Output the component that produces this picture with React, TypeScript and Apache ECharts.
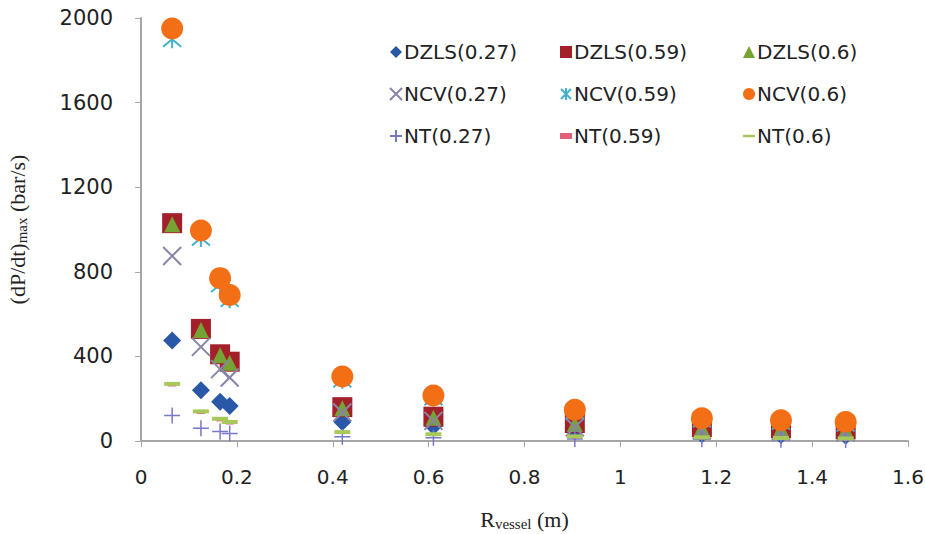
import React, { useEffect, useRef } from "react";
import * as echarts from "echarts";

const xValues = [0.065, 0.125, 0.165, 0.185, 0.42, 0.61, 0.905, 1.17, 1.335, 1.47];

const dzls027 = [475, 240, 185, 165, 90, 70, 45, 32, 28, 25];
const dzls059 = [1030, 530, 410, 375, 160, 115, 85, 65, 60, 55];
const dzls06 = [1025, 525, 405, 370, 155, 110, 80, 62, 58, 52];
const ncv027 = [875, 445, 340, 300, 135, 95, 65, 50, 45, 40];
const ncv059 = [1900, 960, 740, 670, 290, 205, 140, 100, 90, 80];
const ncv06 = [1950, 995, 770, 690, 305, 215, 148, 108, 98, 90];
const nt027 = [120, 60, 45, 35, 20, 15, 10, 8, 6, 5];
const nt059 = [265, 135, 100, 85, 40, 30, 20, 15, 12, 10];
const nt06 = [270, 140, 105, 90, 42, 32, 22, 17, 14, 12];

const yTicks = [0, 400, 800, 1200, 1600, 2000];
const xTicks = [0, 0.2, 0.4, 0.6, 0.8, 1, 1.2, 1.4, 1.6];

const pathX = "path://M0,0L10,10M10,0L0,10";
const pathStar = "path://M0,0L10,10M10,0L0,10M5,-1L5,11";
const pathPlus = "path://M5,0L5,10M0,5L10,5";

export default function App() {
  const ref = useRef<HTMLDivElement>(null);
  useEffect(() => {
    if (!ref.current) return;
    const chart = echarts.init(ref.current, undefined, { renderer: "svg" });
    const pts = (ys: number[]) => xValues.map((x, i) => [x, ys[i]]);
    const font = "DejaVu Sans";
    const series: any[] = [
      { name: "DZLS(0.27)", data: pts(dzls027), symbol: "diamond", symbolSize: 18, itemStyle: { color: "#2A58A8", opacity: 1 } },
      { name: "DZLS(0.59)", data: pts(dzls059), symbol: "rect", symbolSize: 20, itemStyle: { color: "#A3202A", opacity: 1 } },
      { name: "DZLS(0.6)", data: pts(dzls06), symbol: "triangle", symbolSize: 16, itemStyle: { color: "#77A234", opacity: 1 } },
      { name: "NCV(0.27)", data: pts(ncv027), symbol: pathX, symbolSize: 18, itemStyle: { color: "transparent", borderColor: "#8A84A8", borderWidth: 2, opacity: 1 } },
      { name: "NCV(0.59)", data: pts(ncv059), symbol: pathStar, symbolSize: 18, itemStyle: { color: "transparent", borderColor: "#45B0CC", borderWidth: 2, opacity: 1 } },
      { name: "NCV(0.6)", data: pts(ncv06), symbol: "circle", symbolSize: 22, itemStyle: { color: "#F26F16", opacity: 1 } },
      { name: "NT(0.27)", data: pts(nt027), symbol: pathPlus, symbolSize: 16, itemStyle: { color: "transparent", borderColor: "#7878C8", borderWidth: 1.5, opacity: 1 } },
      { name: "NT(0.59)", data: pts(nt059), symbol: "rect", symbolSize: [8, 3], itemStyle: { color: "#E0607E", opacity: 1 } },
      { name: "NT(0.6)", data: pts(nt06), symbol: "rect", symbolSize: [16, 4], itemStyle: { color: "#A9C85A", opacity: 1 } },
    ].map((s) => ({ ...s, type: "scatter" }));

    const legendBase = {
      orient: "vertical",
      top: 37,
      itemWidth: 12,
      itemHeight: 12,
      itemGap: 22,
      textStyle: { fontFamily: font, fontSize: 20, color: "#222", lineHeight: 20, padding: [0, 0, 0, -3] },
    };

    chart.setOption({
      animation: false,
      backgroundColor: "#fff",
      grid: { left: 141, right: 17, top: 18, bottom: 93, outerBoundsMode: "none", containLabel: false },
      legend: [
        { ...legendBase, left: 384, data: [
          { name: "DZLS(0.27)", icon: "diamond" },
          { name: "NCV(0.27)", icon: pathX },
          { name: "NT(0.27)", icon: pathPlus },
        ] },
        { ...legendBase, left: 555, data: [
          { name: "DZLS(0.59)", icon: "rect" },
          { name: "NCV(0.59)", icon: pathStar },
          { name: "NT(0.59)", icon: "path://M0,0H6V3H0Z" },
        ] },
        { ...legendBase, left: 738, data: [
          { name: "DZLS(0.6)", icon: "triangle" },
          { name: "NCV(0.6)", icon: "circle" },
          { name: "NT(0.6)", icon: "path://M0,0H12V2.5H0Z" },
        ] },
      ],
      xAxis: {
        type: "value",
        min: 0,
        max: 1.6,
        interval: 0.2,
        axisLine: { show: true, onZero: false, lineStyle: { color: "#A6A6A6", width: 2 } },
        axisTick: { show: true, length: 6, lineStyle: { color: "#A6A6A6" } },
        splitLine: { show: false },
        axisLabel: {
          fontFamily: font, fontSize: 20, color: "#222", margin: 26,
          formatter: (v: number) => (xTicks.some((t) => Math.abs(t - v) < 1e-9) ? String(Math.round(v * 10) / 10) : ""),
        },
        name: "{r|R}{s|vessel}{r| (m)}",
        nameLocation: "middle",
        nameGap: 66,
        nameTextStyle: {
          rich: {
            r: { fontFamily: "Liberation Serif", fontSize: 22, color: "#222" },
            s: { fontFamily: "Liberation Serif", fontSize: 15, color: "#222", padding: [9, 0, 0, 0] },
          },
        },
      },
      yAxis: {
        type: "value",
        min: 0,
        max: 2000,
        interval: 400,
        axisLine: { show: true, lineStyle: { color: "#A6A6A6", width: 2 } },
        axisTick: { show: true, length: 6, lineStyle: { color: "#A6A6A6" } },
        splitLine: { show: false },
        axisLabel: {
          fontFamily: font, fontSize: 21, color: "#222", margin: 28,
          formatter: (v: number) => (yTicks.includes(v) ? String(v) : ""),
        },
        name: "{r|(dP/dt)}{s|max}{r| (bar/s)}",
        nameLocation: "middle",
        nameGap: 112,
        nameRotate: 90,
        nameTextStyle: {
          rich: {
            r: { fontFamily: "Liberation Serif", fontSize: 22, color: "#222" },
            s: { fontFamily: "Liberation Serif", fontSize: 15, color: "#222", padding: [9, 0, 0, 0] },
          },
        },
      },
      series,
    });
    return () => chart.dispose();
  }, []);
  return <div ref={ref} style={{ position: "fixed", left: 0, top: 0, width: 925, height: 534 }} />;
}
